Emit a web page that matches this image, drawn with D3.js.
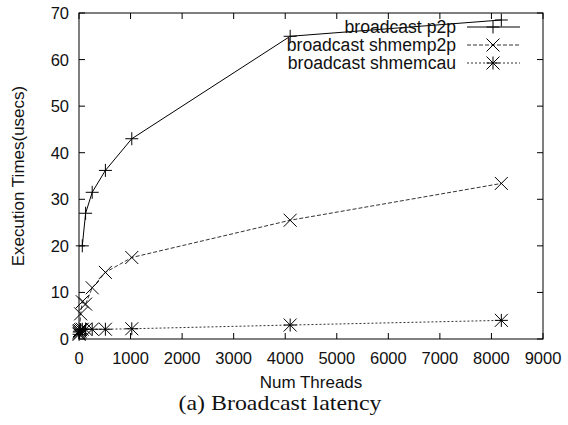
<!DOCTYPE html>
<html>
<head>
<meta charset="utf-8">
<script src="https://cdn.jsdelivr.net/npm/d3@7"></script>
<style>
  body { margin: 0; background: #fff; }
  svg text { font-family: "Liberation Sans", Arial, sans-serif; fill: #111; }
</style>
</head>
<body>
<svg id="chart" width="568" height="425"></svg>
<script>
// values (threads, usecs)
const p2pThreads = [64, 128, 256, 512, 1024, 4096, 8192];
const p2pTimes = [20, 27, 31.5, 36.2, 43, 65, 68.5];

const shmemp2pThreads = [2, 8, 32, 64, 128, 256, 512, 1024, 4096, 8192];
const shmemp2pTimes = [1.2, 1.8, 5.4, 8.0, 7.5, 11.0, 14.3, 17.5, 25.5, 33.4];

const shmemcauThreads = [2, 4, 16, 32, 64, 128, 256, 512, 1024, 4096, 8192];
const shmemcauTimes = [1.0, 1.5, 1.7, 2.0, 2.1, 2.1, 2.1, 2.1, 2.2, 3.0, 4.0];

const xTicks = [0, 1000, 2000, 3000, 4000, 5000, 6000, 7000, 8000, 9000];
const yTicks = [0, 10, 20, 30, 40, 50, 60, 70];

const seriesNames = ["broadcast p2p", "broadcast shmemp2p", "broadcast shmemcau"];

const svg = d3.select("#chart");
const mLeft = 79, mRight = 543, mTop = 13, mBottom = 339;

const x = d3.scaleLinear().domain([0, 9000]).range([mLeft, mRight]);
const y = d3.scaleLinear().domain([0, 70]).range([mBottom, mTop]);

const series = [
  { name: seriesNames[0], xs: p2pThreads, ys: p2pTimes, dash: null, color: "#000", marker: "plus" },
  { name: seriesNames[1], xs: shmemp2pThreads, ys: shmemp2pTimes, dash: "4,2", color: "#333", marker: "cross" },
  { name: seriesNames[2], xs: shmemcauThreads, ys: shmemcauTimes, dash: "2,2", color: "#333", marker: "star" }
];

// frame
svg.append("rect")
  .attr("x", mLeft).attr("y", mTop)
  .attr("width", mRight - mLeft).attr("height", mBottom - mTop)
  .attr("fill", "none").attr("stroke", "#000").attr("stroke-width", 1);

// inward ticks on all four sides
const tl = 6;
const g = svg.append("g").attr("stroke", "#000").attr("stroke-width", 1);
xTicks.forEach(t => {
  g.append("line").attr("x1", x(t)).attr("x2", x(t)).attr("y1", mBottom).attr("y2", mBottom - tl);
  g.append("line").attr("x1", x(t)).attr("x2", x(t)).attr("y1", mTop).attr("y2", mTop + tl);
});
yTicks.forEach(t => {
  g.append("line").attr("x1", mLeft).attr("x2", mLeft + tl).attr("y1", y(t)).attr("y2", y(t));
  g.append("line").attr("x1", mRight).attr("x2", mRight - tl).attr("y1", y(t)).attr("y2", y(t));
});

svg.selectAll(".xt").data(xTicks).enter().append("text")
  .attr("x", d => x(d)).attr("y", 364)
  .attr("text-anchor", "middle").style("font-size", "16.5px")
  .text(d => d);

svg.selectAll(".yt").data(yTicks).enter().append("text")
  .attr("x", 69).attr("y", d => y(d) + 6)
  .attr("text-anchor", "end").style("font-size", "16.5px")
  .text(d => d);

svg.append("text")
  .attr("x", 311).attr("y", 388)
  .attr("text-anchor", "middle").style("font-size", "17px")
  .text("Num Threads");

svg.append("text")
  .attr("transform", "translate(24,176) rotate(-90)")
  .attr("text-anchor", "middle").style("font-size", "17px")
  .text("Execution Times(usecs)");

svg.append("text")
  .attr("x", 280).attr("y", 410)
  .attr("text-anchor", "middle")
  .style("font-family", "'Liberation Serif', 'Times New Roman', serif")
  .style("font-size", "21px")
  .attr("textLength", 203).attr("lengthAdjust", "spacingAndGlyphs")
  .text("(a) Broadcast latency");

function drawMarker(sel, type, cx, cy, color) {
  const s = 6.5;
  const m = sel.append("g").attr("stroke", color).attr("stroke-width", 1);
  if (type === "plus" || type === "star") {
    m.append("line").attr("x1", cx - s).attr("x2", cx + s).attr("y1", cy).attr("y2", cy);
    m.append("line").attr("x1", cx).attr("x2", cx).attr("y1", cy - s).attr("y2", cy + s);
  }
  if (type === "cross" || type === "star") {
    m.append("line").attr("x1", cx - s).attr("x2", cx + s).attr("y1", cy - s).attr("y2", cy + s);
    m.append("line").attr("x1", cx - s).attr("x2", cx + s).attr("y1", cy + s).attr("y2", cy - s);
  }
}

const line = d3.line().x(d => x(d[0])).y(d => y(d[1]));

series.forEach(s => {
  const pts = s.xs.map((v, i) => [v, s.ys[i]]);
  svg.append("path")
    .attr("d", line(pts))
    .attr("fill", "none")
    .attr("stroke", s.color)
    .attr("stroke-width", 1)
    .attr("stroke-dasharray", s.dash);
  pts.forEach(p => drawMarker(svg, s.marker, x(p[0]), y(p[1]), "#000"));
});

// legend
series.forEach((s, i) => {
  const cy = 27 + i * 18;
  svg.append("text")
    .attr("x", 456).attr("y", cy + 6)
    .attr("text-anchor", "end").style("font-size", "17.6px")
    .text(s.name);
  svg.append("line")
    .attr("x1", 467).attr("x2", 520).attr("y1", cy).attr("y2", cy)
    .attr("stroke", s.color).attr("stroke-width", 1)
    .attr("stroke-dasharray", s.dash);
  drawMarker(svg, s.marker, 493, cy, "#000");
});
</script>
</body>
</html>
